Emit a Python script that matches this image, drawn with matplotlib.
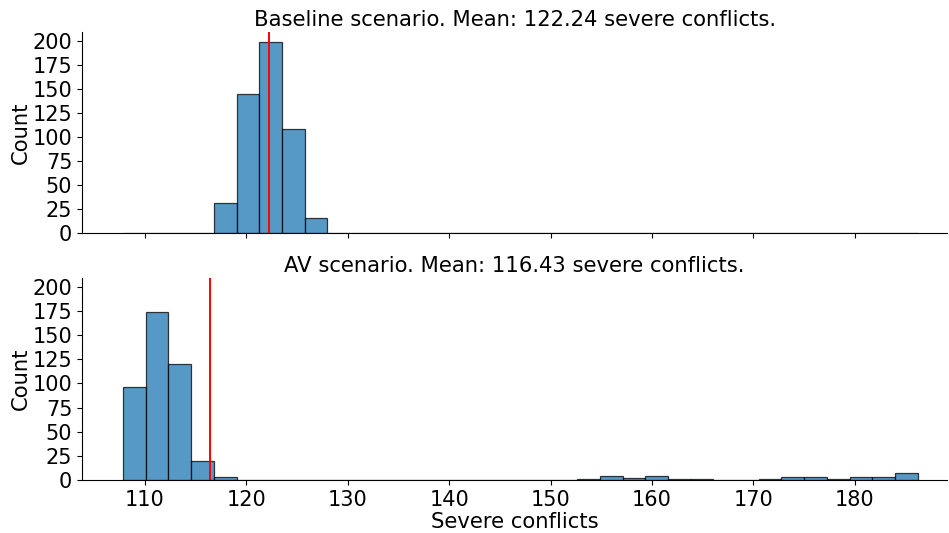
import numpy as np
import matplotlib
matplotlib.use('Agg')
import matplotlib.pyplot as plt

# Common bin edges (35 bins) shared by both scenarios
bin_edges = np.linspace(107.85, 186.2, 36)

# Counts per bin, baseline scenario
baseline_counts = [0, 0, 0, 0, 31, 144, 199, 108, 16] + [0] * 26
baseline_mean = 122.24

# Counts per bin, AV scenario
av_counts = [96, 174, 120, 20, 3, 0, 0, 0, 0, 0,
             0, 0, 0, 0, 0, 0, 0, 0, 0, 0,
             1, 4, 2, 4, 1, 1, 0, 0, 1, 3,
             3, 1, 3, 3, 7]
av_mean = 116.43

titles = ['Baseline scenario. Mean: 122.24 severe conflicts.',
          'AV scenario. Mean: 116.43 severe conflicts.']

plt.rcParams['font.size'] = 15

fig = plt.figure(figsize=(9.49, 5.33), dpi=100)
ax1 = fig.add_axes([0.0864, 0.563, 0.9116, 0.377])
ax2 = fig.add_axes([0.0864, 0.0994, 0.9116, 0.379], sharex=ax1, sharey=ax1)

widths = np.diff(bin_edges)
for ax, counts, mean, title in zip([ax1, ax2], [baseline_counts, av_counts],
                                   [baseline_mean, av_mean], titles):
    ax.bar(bin_edges[:-1], counts, width=widths, align='edge',
           color='#1f77b4', edgecolor='black', linewidth=0.9, alpha=0.75)
    ax.axvline(mean, color='red', linewidth=1.4)
    ax.set_title(title, fontsize=15.2, pad=4)
    ax.set_ylabel('Count', fontsize=15.2, labelpad=1.5)
    ax.spines['top'].set_visible(False)
    ax.spines['right'].set_visible(False)

ax1.set_yticks(np.arange(0, 201, 25))
ax1.set_ylim(0, 209)
ax1.set_xlim(103.8, 189.1)
ax1.tick_params(labelbottom=False)
ax2.set_xlabel('Severe conflicts', fontsize=15.2, labelpad=1.5)

fig.savefig('out.png', dpi=100)
